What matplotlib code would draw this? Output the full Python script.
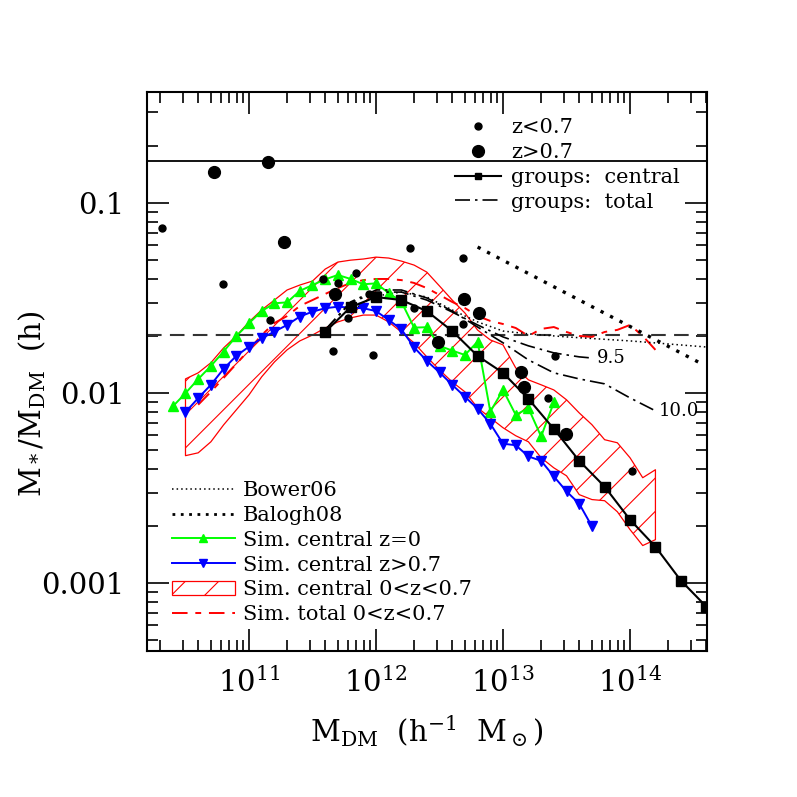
import numpy as np
import matplotlib
matplotlib.use("Agg")
import matplotlib.pyplot as plt
from matplotlib.lines import Line2D
from matplotlib.patches import Patch

plt.rcParams['font.family'] = ['DejaVu Serif']
plt.rcParams['mathtext.fontset'] = 'dejavuserif'
plt.rcParams['hatch.linewidth'] = 0.8

# all values as log10(M_DM) and log10(M*/M_DM)
# observed groups, z<0.7 (small dots) and z>0.7 (big dots)
lo_z_x = [10.315, 10.795, 11.165, 11.583, 11.701, 11.843, 11.945, 11.780, 11.661,
          11.976, 12.268, 12.299, 12.685, 12.685, 13.409, 13.354, 14.016]
lo_z_y = [-1.131, -1.426, -1.615, -1.399, -1.420, -1.368, -1.478, -1.604, -1.778,
          -1.799, -1.236, -1.552, -1.289, -1.636, -1.804, -2.025, -2.408]
hi_z_x = [10.724, 11.150, 11.276, 11.677, 12.488, 12.693, 12.811, 13.142, 13.165, 13.496]
hi_z_y = [-0.837, -0.784, -1.205, -1.478, -1.730, -1.504, -1.578, -1.888, -1.967, -2.214]

# groups: central (squares)
grp_x = [11.6, 11.8, 12.0, 12.2, 12.4, 12.6, 12.8, 13.0, 13.2, 13.4, 13.6, 13.8,
         14.0, 14.2, 14.4, 14.6]
grp_y = [-1.678, -1.547, -1.494, -1.510, -1.568, -1.673, -1.804, -1.893, -2.030,
         -2.188, -2.356, -2.492, -2.666, -2.808, -2.986, -3.123]

# groups: total, two thresholds
tot95_x = [11.6, 11.8, 12.0, 12.2, 12.4, 12.6, 12.8, 13.0, 13.2, 13.4, 13.6, 13.7]
tot95_y = [-1.667, -1.525, -1.468, -1.468, -1.510, -1.573, -1.641, -1.704, -1.751,
           -1.788, -1.809, -1.815]
tot10_x = [11.6, 11.8, 12.0, 12.2, 12.4, 12.6, 12.8, 13.0, 13.2, 13.4, 13.6, 13.8,
           14.0, 14.2]
tot10_y = [-1.667, -1.520, -1.457, -1.457, -1.499, -1.568, -1.652, -1.735, -1.825,
           -1.893, -1.925, -1.951, -2.025, -2.093]

# models
bower_x = [11.8, 11.9, 12.0, 12.2, 12.4, 12.6, 12.8, 13.0, 13.2, 13.5, 14.0, 14.6]
bower_y = [-1.573, -1.525, -1.489, -1.468, -1.494, -1.562, -1.625, -1.673, -1.688,
           -1.704, -1.725, -1.757]
balogh_x = [12.8, 14.58]
balogh_y = [-1.231, -1.851]

# simulations
sim_z0_x = [10.4 + 0.1 * i for i in range(31)]
sim_z0_y = [-2.070, -2.000, -1.926, -1.857, -1.781, -1.700, -1.632, -1.568, -1.527,
            -1.522, -1.462, -1.431, -1.401, -1.378, -1.399, -1.427, -1.422, -1.473,
            -1.519, -1.655, -1.653, -1.751, -1.776, -1.799, -1.729, -2.097, -1.983,
            -2.114, -2.079, -2.228, -2.049]
sim_hz_x = [10.5 + 0.1 * i for i in range(33)]
sim_hz_y = [-2.100, -2.026, -1.956, -1.872, -1.804, -1.755, -1.711, -1.676, -1.641,
            -1.597, -1.571, -1.553, -1.545, -1.550, -1.553, -1.568, -1.615, -1.664,
            -1.759, -1.830, -1.891, -1.956, -2.019, -2.082, -2.161, -2.266, -2.274,
            -2.333, -2.356, -2.438, -2.517, -2.582, -2.701]
band_x = [10.5 + 0.1 * i for i in range(38)]
band_hi = [-1.925, -1.893, -1.840, -1.762, -1.699, -1.625, -1.562, -1.510, -1.457,
           -1.431, -1.410, -1.347, -1.310, -1.300, -1.294, -1.284, -1.289, -1.305,
           -1.326, -1.363, -1.436, -1.510, -1.578, -1.668, -1.720, -1.746, -1.867,
           -1.930, -1.956, -1.983, -2.035, -2.104, -2.166, -2.245, -2.261, -2.340,
           -2.445, -2.403]
band_lo = [-2.329, -2.314, -2.256, -2.167, -2.088, -2.009, -1.914, -1.836, -1.772,
           -1.725, -1.694, -1.657, -1.625, -1.604, -1.589, -1.589, -1.625, -1.678,
           -1.736, -1.809, -1.878, -1.941, -1.993, -2.077, -2.130, -2.182, -2.224,
           -2.256, -2.340, -2.393, -2.435, -2.534, -2.560, -2.566, -2.624, -2.718,
           -2.802, -2.771]
sim_tot_x = [10.6 + 0.1 * i for i in range(37)]
sim_tot_y = [-2.061, -1.993, -1.920, -1.846, -1.772, -1.694, -1.631, -1.594, -1.541,
             -1.510, -1.478, -1.447, -1.420, -1.405, -1.399, -1.399, -1.405, -1.420,
             -1.447, -1.483, -1.520, -1.552, -1.594, -1.620, -1.636, -1.657, -1.699,
             -1.662, -1.652, -1.678, -1.699, -1.704, -1.678, -1.667, -1.641, -1.699,
             -1.772]

f_baryon = 0.166
f_ref = 0.0202

GREEN = '#00ff00'
dashdot = (0, (9, 3, 1.5, 3))


def p(v):
    return 10 ** np.asarray(v)


fig = plt.figure(figsize=(7.97, 7.97), dpi=100)
ax = fig.add_axes([147 / 797, 1 - 651 / 797, 560 / 797, 559 / 797])
ax.set_xscale('log')
ax.set_yscale('log')

ax.fill_between(p(band_x), p(band_lo), p(band_hi), facecolor='none', edgecolor='red',
                hatch='/', linewidth=0.9, zorder=1)

ax.axhline(f_baryon, color='black', lw=1.3, zorder=2)
ax.axhline(f_ref, color='#333333', lw=1.5, ls=(0, (7, 4)), zorder=2)

ax.plot(p(sim_tot_x), p(sim_tot_y), color='red', lw=1.4, ls=(0, (8, 4, 3, 4)), zorder=3)
ax.plot(p(bower_x), p(bower_y), color='black', lw=1.1, ls=(0, (1, 2)), zorder=3)
ax.plot(p(balogh_x), p(balogh_y), color='black', lw=2.4, ls=(0, (1, 2.2)), zorder=3)
ax.plot(p(sim_z0_x), p(sim_z0_y), color=GREEN, lw=1.4, marker='^', ms=6.5, zorder=4)
ax.plot(p(sim_hz_x), p(sim_hz_y), color='blue', lw=1.4, marker='v', ms=6.5, zorder=4)
ax.plot(p(tot95_x), p(tot95_y), color='black', lw=1.2, ls=dashdot, zorder=5)
ax.plot(p(tot10_x), p(tot10_y), color='black', lw=1.2, ls=dashdot, zorder=5)
ax.plot(p(grp_x), p(grp_y), color='black', lw=1.5, marker='s', ms=6.5, zorder=6)
ax.plot(p(lo_z_x), p(lo_z_y), 'o', color='black', ms=5, zorder=7)
ax.plot(p(hi_z_x), p(hi_z_y), 'o', color='black', ms=8.5, zorder=7)

ax.text(10 ** 13.74, 10 ** -1.815, '9.5', fontsize=13, va='center', ha='left')
ax.text(10 ** 14.23, 10 ** -2.093, '10.0', fontsize=13, va='center', ha='left')

ax.set_xlim(10 ** 10.197, 10 ** 14.606)
ax.set_ylim(10 ** -3.357, 10 ** -0.415)

ax.set_xticks([1e11, 1e12, 1e13, 1e14])
ax.set_xticklabels(['$10^{11}$', '$10^{12}$', '$10^{13}$', '$10^{14}$'])
ax.set_yticks([1e-3, 1e-2, 1e-1])
ax.set_yticklabels(['0.001', '0.01', '0.1'])
ax.tick_params(which='both', direction='in', top=True, right=True, width=1.2)
ax.tick_params(which='major', length=15.8, labelsize=21)
ax.tick_params(which='minor', length=7.9)
ax.tick_params(axis='y', which='major', pad=16)
ax.tick_params(axis='x', which='major', pad=12)
for s in ax.spines.values():
    s.set_linewidth(1.5)

ax.set_xlabel(r'M$_{\rm DM}$  (h$^{-1}$  M$_\odot$)', fontsize=21)
ax.set_ylabel(r'M$_*$/M$_{\rm DM}$  (h)', fontsize=21)
ax.xaxis.set_label_coords(0.5, -0.112)
ax.yaxis.set_label_coords(-0.177, 0.442)

h_top = [
    Line2D([], [], ls='none', marker='o', ms=5, color='black'),
    Line2D([], [], ls='none', marker='o', ms=8.5, color='black'),
    Line2D([], [], color='black', lw=1.5, marker='s', ms=5),
    Line2D([], [], color='black', lw=1.2, ls=dashdot),
]
leg1 = ax.legend(h_top, ['z<0.7', 'z>0.7', 'groups:  central', 'groups:  total'],
                 loc='upper left', bbox_to_anchor=(0.55, 0.953), frameon=False,
                 fontsize=15, handlelength=2.2, handletextpad=0.5, labelspacing=0.28,
                 borderpad=0, borderaxespad=0, numpoints=1)
ax.add_artist(leg1)

h_bot = [
    Line2D([], [], color='black', lw=1.1, ls=(0, (1, 2))),
    Line2D([], [], color='black', lw=2.0, ls=(0, (1, 2))),
    Line2D([], [], color=GREEN, lw=1.4, marker='^', ms=6),
    Line2D([], [], color='blue', lw=1.4, marker='v', ms=6),
    Patch(facecolor='none', edgecolor='red', hatch='/', lw=0.9),
    Line2D([], [], color='red', lw=1.4, ls=(0, (8, 4, 3, 4))),
]
ax.legend(h_bot, ['Bower06', 'Balogh08', 'Sim. central z=0', 'Sim. central z>0.7',
                  'Sim. central 0<z<0.7', 'Sim. total 0<z<0.7'],
          loc='upper left', bbox_to_anchor=(0.045, 0.304), frameon=False,
          fontsize=15, handlelength=3.0, handletextpad=0.4, labelspacing=0.28,
          borderpad=0, borderaxespad=0, numpoints=1)

fig.savefig('out.png', dpi=100)
